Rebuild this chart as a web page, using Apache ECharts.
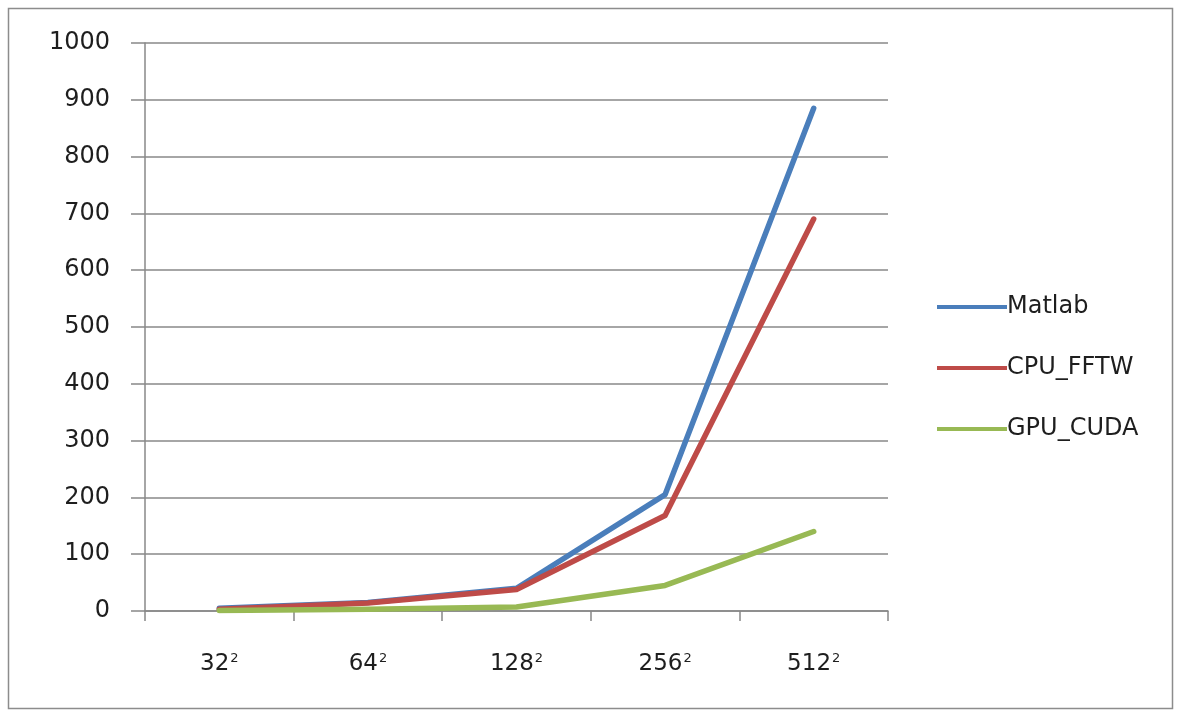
<!DOCTYPE html>
<html>
<head>
<meta charset="utf-8">
<script src="https://cdn.jsdelivr.net/npm/echarts@6/dist/echarts.min.js"></script>
<style>
  html, body { margin: 0; padding: 0; background: #fff; }
  #chart { width: 1181px; height: 716px; }
</style>
</head>
<body>
<div id="chart"></div>
<script>
// Matrix sizes (N², shown as base with a superscript 2)
const sizes = ['32', '64', '128', '256', '512'];
// Timings per implementation
const matlab  = [5, 15, 40, 205, 885];
const cpuFftw = [3, 14, 38, 168, 690];
const gpuCuda = [1, 3, 7, 45, 140];
// Y-axis range
const yMin = 0, yMax = 1000, yStep = 100;

const FONT = 'DejaVu Sans';
const TEXT = '#1e1e1e';
const chart = echarts.init(document.getElementById('chart'), null, { renderer: 'canvas' });

function lineSeries(name, data, color) {
  return {
    name: name,
    type: 'line',
    data: data,
    symbol: 'none',
    lineStyle: { color: color, width: 5.5, cap: 'round', join: 'round' },
    itemStyle: { color: color },
    emphasis: { disabled: true }
  };
}

chart.setOption({
  animation: false,
  backgroundColor: '#ffffff',
  textStyle: { fontFamily: FONT },
  graphic: [{
    type: 'rect',
    shape: { x: 8.5, y: 8.5, width: 1164, height: 700 },
    style: { fill: 'none', stroke: '#8c8c8c', lineWidth: 1.5 },
    silent: true
  }],
  grid: { left: 145, right: 293, top: 43, bottom: 105, containLabel: false },
  legend: {
    orient: 'vertical',
    left: 932,
    top: 290,
    itemWidth: 70,
    itemHeight: 4,
    itemGap: 37,
    icon: 'rect',
    textStyle: { fontFamily: FONT, fontSize: 24, lineHeight: 24, color: TEXT, padding: [0, 0, 0, -5] },
    data: ['Matlab', 'CPU_FFTW', 'GPU_CUDA']
  },
  xAxis: {
    type: 'category',
    data: sizes,
    boundaryGap: true,
    axisLine: { lineStyle: { color: '#888', width: 1.5 } },
    axisTick: { show: true, length: 10, alignWithLabel: false, lineStyle: { color: '#888', width: 1.5 } },
    axisLabel: {
      margin: 41,
      formatter: v => '{b|' + v + '}{s|2}',
      rich: {
        b: { fontFamily: FONT, fontSize: 23, color: TEXT },
        s: { fontFamily: FONT, fontSize: 13, color: TEXT, padding: [0, 0, 11, 1] }
      }
    }
  },
  yAxis: {
    type: 'value',
    min: yMin,
    max: yMax,
    interval: yStep,
    axisLine: { show: true, lineStyle: { color: '#888', width: 1.5 } },
    axisTick: { show: true, inside: false, length: 14, lineStyle: { color: '#888', width: 1.5 } },
    splitLine: { show: true, lineStyle: { color: '#888', width: 1.5 } },
    axisLabel: { margin: 35, fontFamily: FONT, fontSize: 24, color: TEXT, formatter: v => String(v) }
  },
  series: [
    lineSeries('Matlab', matlab, '#4a7ebb'),
    lineSeries('CPU_FFTW', cpuFftw, '#be4b48'),
    lineSeries('GPU_CUDA', gpuCuda, '#98b954')
  ]
});
</script>
</body>
</html>
